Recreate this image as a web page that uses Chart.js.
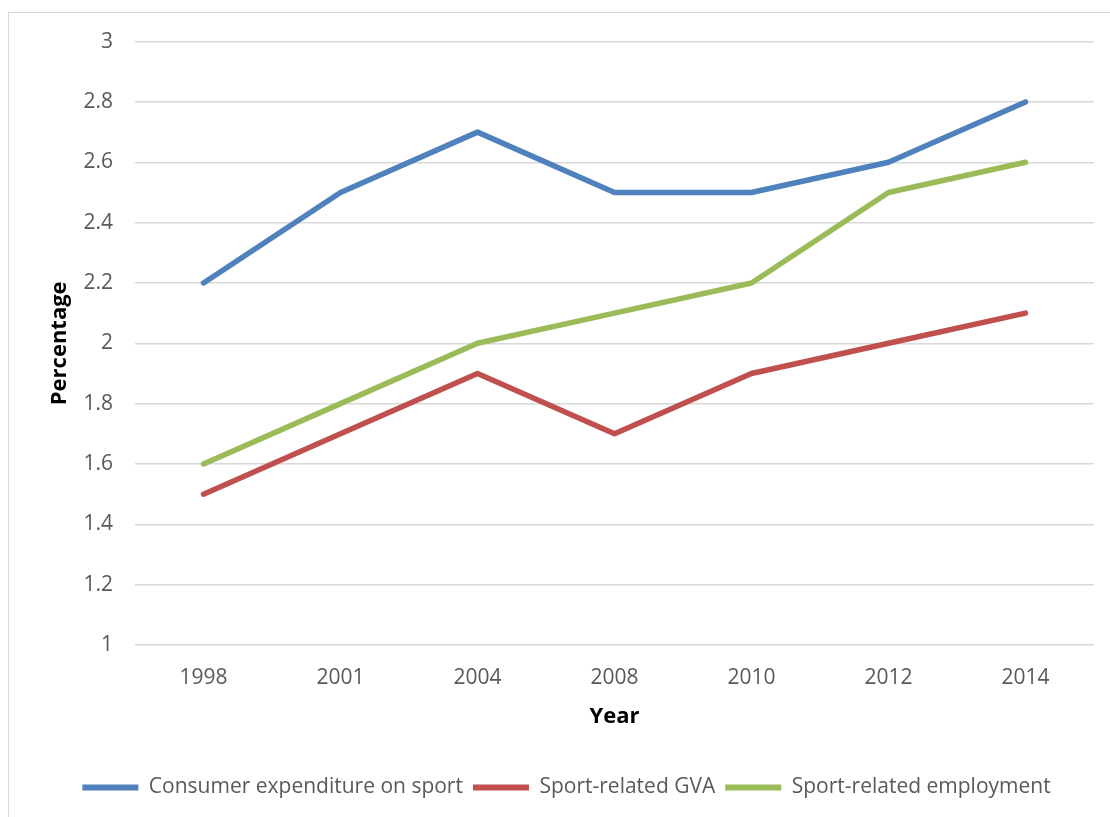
<!DOCTYPE html>
<html>
<head>
<meta charset="utf-8">
<script src="https://cdn.jsdelivr.net/npm/chart.js@4/dist/chart.umd.min.js"></script>
<style>
  body { margin: 0; background: #fff; overflow: hidden; }
  #frame {
    position: absolute;
    left: 8px;
    top: 12px;
    width: 1120px;
    height: 830px;
    border: 1px solid #d9d9d9;
  }
  #myChart {
    position: absolute;
    left: 0;
    top: -6px;
  }
</style>
</head>
<body>
<div id="frame">
  <canvas id="myChart" width="1101" height="810"></canvas>
</div>
<script>
// data
const years = ["1998", "2001", "2004", "2008", "2010", "2012", "2014"];
const consumerExpenditure = [2.2, 2.5, 2.7, 2.5, 2.5, 2.6, 2.8];
const sportGVA = [1.5, 1.7, 1.9, 1.7, 1.9, 2.0, 2.1];
const sportEmployment = [1.6, 1.8, 2.0, 2.1, 2.2, 2.5, 2.6];
const yMin = 1;
const yMax = 3;
const yStep = 0.2;

const fontFamily = "'Open Sans', sans-serif";
const tickColor = "#595959";
const gridColor = "#d9d9d9";

function lineSet(label, data, color) {
  return {
    label: label,
    data: data,
    borderColor: color,
    backgroundColor: color,
    borderWidth: 5.5,
    pointRadius: 0,
    pointHoverRadius: 0,
    borderCapStyle: "round",
    borderJoinStyle: "round",
    tension: 0,
  };
}

const ctx = document.getElementById("myChart").getContext("2d");
new Chart(ctx, {
  type: "line",
  data: {
    labels: years,
    datasets: [
      lineSet("Consumer expenditure on sport", consumerExpenditure, "#4f81bd"),
      lineSet("Sport-related GVA", sportGVA, "#c0504d"),
      lineSet("Sport-related employment", sportEmployment, "#9bbb59"),
    ],
  },
  options: {
    responsive: false,
    animation: false,
    layout: {
      padding: { top: 22, right: 16, bottom: 9, left: 30 },
    },
    plugins: {
      tooltip: { enabled: false },
      legend: {
        position: "bottom",
        labels: {
          boxWidth: 56,
          boxHeight: 6,
          padding: 10,
          color: tickColor,
          font: { family: fontFamily, size: 21 },
          generateLabels: function (chart) {
            return Chart.defaults.plugins.legend.labels
              .generateLabels(chart)
              .map(function (item) {
                item.lineWidth = 0;
                item.fillStyle = item.strokeStyle;
                return item;
              });
          },
        },
      },
    },
    scales: {
      x: {
        offset: true,
        grid: { display: false, drawTicks: false },
        border: { display: false },
        ticks: {
          color: tickColor,
          padding: 20,
          maxRotation: 0,
          font: { family: fontFamily, size: 21 },
        },
        title: {
          display: true,
          text: "Year",
          color: "#000",
          padding: { top: 4, bottom: 37 },
          font: { family: fontFamily, size: 22, weight: "bold" },
        },
        afterFit: function (scale) {
          scale.height = 122;
        },
      },
      y: {
        min: yMin,
        max: yMax,
        grid: { color: gridColor, lineWidth: 1.5, drawTicks: false },
        border: { display: false },
        ticks: {
          stepSize: yStep,
          color: tickColor,
          padding: 22,
          font: { family: fontFamily, size: 21 },
          callback: function (value) {
            return Number(value.toFixed(1)).toString();
          },
        },
        title: {
          display: true,
          text: "Percentage",
          color: "#000",
          padding: { top: 8, bottom: 4 },
          font: { family: fontFamily, size: 22, weight: "bold" },
        },
        afterFit: function (scale) {
          scale.width = 96;
        },
      },
    },
  },
});
</script>
</body>
</html>
